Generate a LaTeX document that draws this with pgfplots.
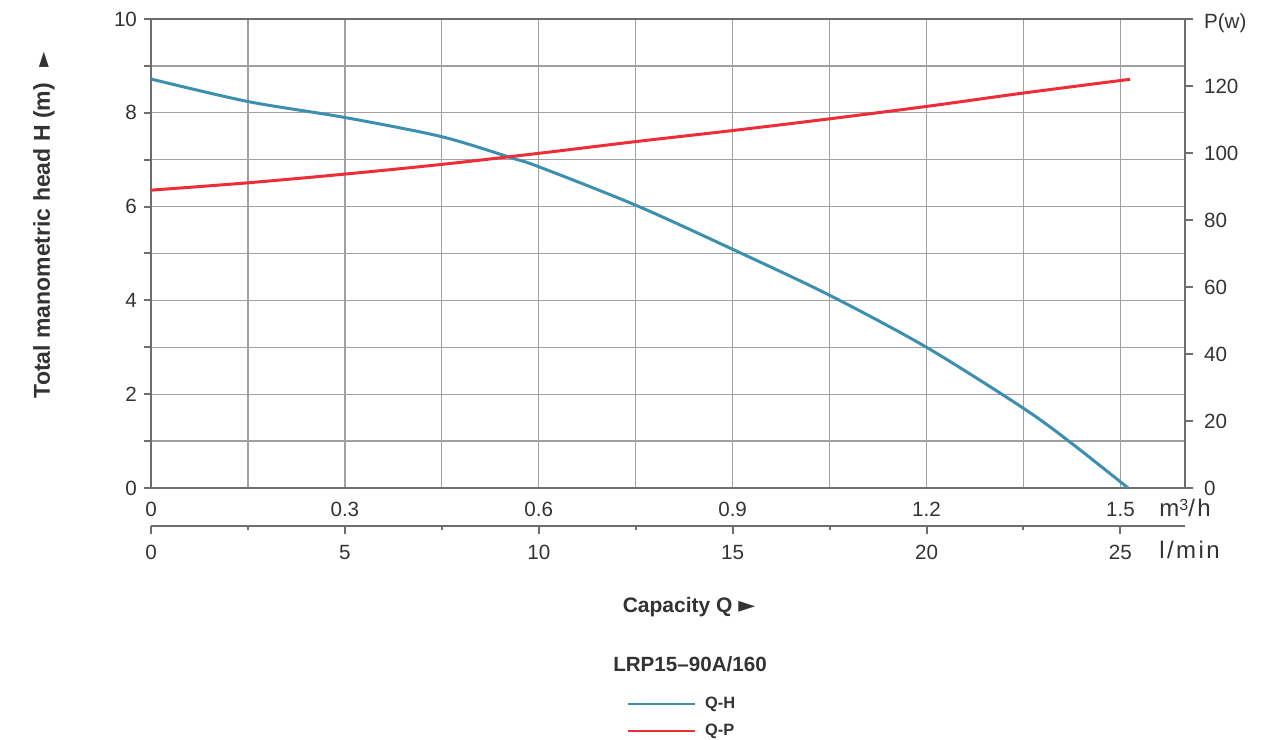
\documentclass[border=0pt]{standalone}
\usepackage{pgfplots}
\pgfplotsset{compat=1.18}
\usepackage{fontspec}
\setmainfont{Liberation Sans}
\newfontfamily\symfont{DejaVu Sans}
\definecolor{qh}{RGB}{61,143,176}
\definecolor{qp}{RGB}{237,46,56}
\definecolor{axc}{RGB}{110,110,110}
\definecolor{grc}{RGB}{160,160,160}
\definecolor{txt}{RGB}{51,51,51}
\pgfplotsset{
  base/.style={width=517pt,height=234.5pt,scale only axis,at={(75.5pt,125.5pt)},anchor=south west,
    /pgf/number format/assume math mode=true,
    tick label style={font=\fontsize{10.3}{12}\selectfont, text=txt},
    axis line style={draw=axc,line width=1pt,-},
    tick style={draw=axc,line width=1pt},
    tick align=outside,
  }
}
\begin{document}
\begin{tikzpicture}
\useasboundingbox (0,0) rectangle (641.5pt,369.5pt);
\begin{axis}[base, xmin=0,xmax=1.6,ymin=0,ymax=10,
  xtick={0,0.3,0.6,0.9,1.2,1.5}, xticklabels={0,0.3,0.6,0.9,1.2,1.5},
  minor xtick={0.15,0.45,0.75,1.05,1.35},
  ytick={0,2,4,6,8,10}, minor ytick={1,3,5,7,9},
  xtick pos=bottom, ytick pos=left,
  major tick length=3.5pt, minor tick length=3.5pt,
  xtick style={draw=none}, minor x tick style={draw=none},
  grid=both, grid style={draw=grc,line width=0.65pt}, minor grid style={draw=grc,line width=0.65pt},
  xticklabel style={yshift=0pt},
  legend style={at={(axis description cs:0.4601,-0.4893)}, anchor=west, draw=none, fill=none,
    font=\bfseries\fontsize{8.2}{9.8}\selectfont, text=txt, inner sep=0pt, row sep=2.3pt,
    cells={anchor=west}, /tikz/every odd column/.append style={column sep=2.5pt}},
  legend image code/.code={\draw[#1,line width=1pt] (0pt,0pt) -- (33.5pt,0pt);},
]
\addplot[qh, line width=1.5pt, smooth] coordinates {
(0,8.72) (0.15,8.24) (0.3,7.90) (0.45,7.49) (0.56,7.03) (0.6,6.85)
(0.75,6.03) (0.9,5.09) (1.05,4.11) (1.2,3.00)
(1.35,1.70) (1.422,0.98) (1.512,0)};
\addlegendentry{Q-H}
\addlegendimage{qp,line width=1.5pt}
\addlegendentry{Q-P}
\end{axis}
\begin{axis}[base, xmin=0,xmax=1.6,ymin=0,ymax=140,
  axis y line*=right, axis x line=none,
  ytick={0,20,40,60,80,100,120,140}, yticklabels={0,20,40,60,80,100,120,\raisebox{-5pt}[0pt][0pt]{P(w)}},
  yticklabel style={xshift=2pt},
  major tick length=4pt]
\addplot[qp, line width=1.5pt, smooth] coordinates {
(0,88.9) (0.15,91.1) (0.3,93.7) (0.45,96.6) (0.6,99.9) (0.75,103.4)
(0.9,106.7) (1.05,110.2) (1.2,113.9) (1.35,117.9) (1.515,122.0)};
\end{axis}
\begin{axis}[width=517pt,height=10pt,scale only axis,at={(75.5pt,106.5pt)},anchor=south west,
  /pgf/number format/assume math mode=true,
  tick label style={font=\fontsize{10.3}{12}\selectfont, text=txt},
  axis line style={draw=axc,line width=1pt,-},
  tick style={draw=axc,line width=1pt},
  xmin=0,xmax=26.6667,ymin=0,ymax=1,
  axis y line=none, axis x line*=bottom,
  xtick={0,5,10,15,20,25}, minor xtick={2.5,7.5,12.5,17.5,22.5},
  tick align=outside, major tick length=4pt, minor tick length=2pt,
  xticklabel style={yshift=-2pt}]
\addplot[draw=none] coordinates {(0,0)};
\end{axis}
\node[rotate=90, font=\bfseries\fontsize{11.5}{13}\selectfont, text=txt] at (22pt,257pt)
  {Total manometric head H (m)\hspace{8pt}{\symfont\fontsize{10}{10}\selectfont ►}};
\node[font=\bfseries\fontsize{10.5}{12}\selectfont, text=txt] at (344.5pt,66pt)
  {Capacity Q {\symfont\fontsize{11}{11}\selectfont ►}};
\node[font=\bfseries\fontsize{10.3}{12}\selectfont, text=txt] at (345pt,37.5pt) {LRP15–90A/160};
\node[anchor=base west, inner sep=0pt, font=\fontsize{12}{14}\selectfont\addfontfeature{LetterSpace=10}, text=txt] at (579.5pt,111.5pt) {m\raisebox{2.6pt}{\fontsize{8}{9}\selectfont 3}/h};
\node[anchor=base west, inner sep=0pt, font=\fontsize{12}{14}\selectfont\addfontfeature{LetterSpace=10}, text=txt] at (579.5pt,90.5pt) {l/min};
\end{tikzpicture}
\end{document}
